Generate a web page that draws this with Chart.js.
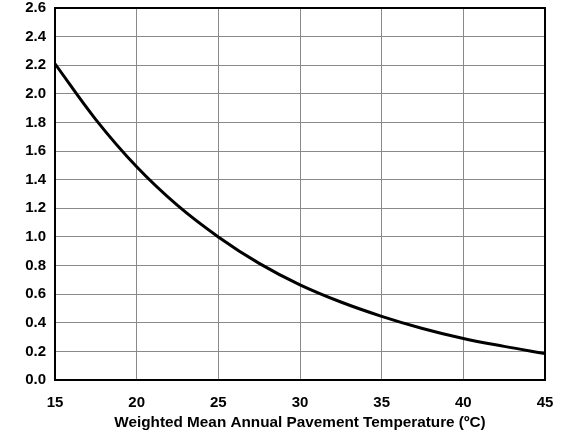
<!DOCTYPE html>
<html lang="en">
<head>
    <meta charset="UTF-8">
    <title>Pavement Temperature Curve</title>
    <style>
        html, body { margin: 0; padding: 0; background: #fff; }
        #chart-container { width: 567px; height: 434px; }
    </style>
</head>
<body>
    <div id="chart-container">
        <canvas id="myChart" width="567" height="434"></canvas>
    </div>

    <script src="https://cdn.jsdelivr.net/npm/chart.js"></script>
    <script>
        // Temperature (x) and factor (y)
        var temps = [15, 17.5, 20, 22.5, 25, 27.5, 30, 32.5, 35, 37.5, 40, 42.5, 45];
        var factors = [2.21, 1.82, 1.49, 1.22, 1.00, 0.815, 0.665, 0.545, 0.445, 0.36, 0.29, 0.235, 0.185];
        var xTicks = [15, 20, 25, 30, 35, 40, 45];
        var xTitle = 'Weighted Mean Annual Pavement Temperature (\u00BAC)';

        var points = temps.map(function (t, i) { return { x: t, y: factors[i] }; });

        // Black frame around the plot area
        var frame = {
            id: 'frame',
            afterDraw: function (chart) {
                var a = chart.chartArea;
                var c = chart.ctx;
                c.save();
                c.strokeStyle = '#000';
                c.lineWidth = 2;
                c.strokeRect(a.left, a.top, a.right - a.left, a.bottom - a.top);
                c.restore();
            }
        };

        var tickFont = { family: 'Liberation Sans, Arial, sans-serif', size: 15, weight: 'bold' };
        var titleFont = { family: 'Liberation Sans, Arial, sans-serif', size: 15.3, weight: 'bold' };

        var ctx = document.getElementById('myChart').getContext('2d');
        var myChart = new Chart(ctx, {
            type: 'line',
            data: {
                datasets: [{
                    data: points,
                    borderColor: '#000',
                    borderWidth: 3,
                    pointRadius: 0,
                    fill: false,
                    tension: 0.4
                }]
            },
            options: {
                responsive: false,
                animation: false,
                layout: { padding: { top: 8, right: 22, left: 0, bottom: 0 } },
                plugins: {
                    legend: { display: false },
                    tooltip: { enabled: false }
                },
                scales: {
                    x: {
                        type: 'linear',
                        min: 15,
                        max: 45,
                        afterBuildTicks: function (axis) {
                            axis.ticks = xTicks.map(function (v) { return { value: v }; });
                        },
                        afterFit: function (axis) {
                            axis.height = 54;
                            axis.paddingLeft = 0;
                            axis.paddingRight = 0;
                        },
                        grid: { color: '#8a8a8a', lineWidth: 1, drawTicks: false },
                        border: { display: false },
                        ticks: { color: '#000', font: tickFont, padding: 14, maxRotation: 0 },
                        title: { display: true, text: xTitle, color: '#000', font: titleFont, padding: { top: 0, bottom: 2 } }
                    },
                    y: {
                        min: 0,
                        max: 2.6,
                        grid: { color: '#8a8a8a', lineWidth: 1, drawTicks: false },
                        border: { display: false },
                        afterFit: function (axis) {
                            axis.width = 55;
                            axis.paddingTop = 0;
                            axis.paddingBottom = 0;
                        },
                        ticks: {
                            stepSize: 0.2,
                            color: '#000',
                            font: tickFont,
                            padding: 9,
                            callback: function (v) { return v.toFixed(1); }
                        }
                    }
                }
            },
            plugins: [frame]
        });
    </script>
</body>
</html>
